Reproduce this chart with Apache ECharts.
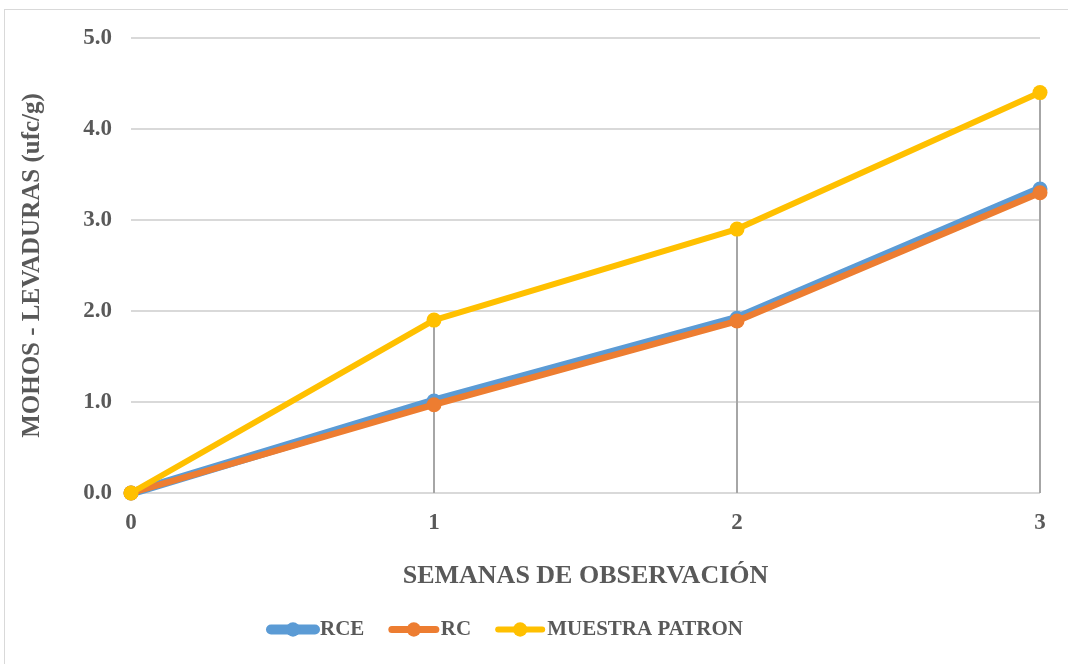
<!DOCTYPE html>
<html>
<head>
<meta charset="utf-8">
<script src="https://cdn.jsdelivr.net/npm/echarts@6/dist/echarts.min.js"></script>
<style>
  html, body { margin: 0; padding: 0; background: #fff; }
  #frame { position: absolute; left: 4px; top: 9px; width: 1080px; height: 680px; border: 1px solid #d9d9d9; box-sizing: border-box; }
  #chart { position: absolute; left: 0; top: 0; width: 1068px; height: 664px; }
</style>
</head>
<body>
<div id="frame"></div>
<div id="chart"></div>
<script>
// datos
var semanas = ['0', '1', '2', '3'];
var rce = [0, 1.01, 1.92, 3.34];
var rc = [0, 0.97, 1.89, 3.30];
var muestraPatron = [0, 1.90, 2.90, 4.40];
var yTicks = [0, 1, 2, 3, 4, 5];

var fuente = '"Liberation Serif", "Times New Roman", serif';
var gris = '#595959';

// lineas de caida (drop lines) desde el punto mas alto hasta el eje
var caidas = [];
for (var i = 1; i < semanas.length; i++) {
  var maxVal = Math.max(rce[i], rc[i], muestraPatron[i]);
  caidas.push([{ coord: [semanas[i], 0] }, { coord: [semanas[i], maxVal] }]);
}

var myChart = echarts.init(document.getElementById('chart'));
var option = {
  animation: false,
  color: ['#5b9bd5', '#ed7d31', '#ffc000'],
  grid: { left: 131, right: 28, top: 38, bottom: 171 },
  legend: {
    bottom: 19,
    left: 261,
    itemWidth: 44,
    itemHeight: 18,
    itemGap: 24,
    textStyle: { fontFamily: fuente, fontWeight: 'bold', fontSize: 21, color: gris },
    data: [
      { name: 'RCE', lineStyle: { width: 10, cap: 'round' } },
      { name: 'RC', lineStyle: { width: 7, cap: 'round' } },
      { name: 'MUESTRA PATRON', lineStyle: { width: 6, cap: 'round' } }
    ]
  },
  xAxis: {
    type: 'category',
    data: semanas,
    boundaryGap: false,
    name: 'SEMANAS DE OBSERVACIÓN',
    nameLocation: 'middle',
    nameGap: 70,
    nameTextStyle: { fontFamily: fuente, fontWeight: 'bold', fontSize: 26, color: gris },
    axisLine: { show: false },
    axisTick: { show: false },
    axisLabel: { fontFamily: fuente, fontWeight: 'bold', fontSize: 23, color: gris, margin: 19 }
  },
  yAxis: {
    type: 'value',
    min: 0,
    max: 5,
    interval: 1,
    name: 'MOHOS - LEVADURAS (ufc/g)',
    nameLocation: 'middle',
    nameGap: 86,
    nameTextStyle: { fontFamily: fuente, fontWeight: 'bold', fontSize: 25, color: gris },
    axisLine: { show: false },
    axisTick: { show: false },
    splitLine: { lineStyle: { color: '#d9d9d9', width: 2 } },
    axisLabel: {
      fontFamily: fuente, fontWeight: 'bold', fontSize: 23, color: gris, margin: 19,
      formatter: function (v) { return yTicks.indexOf(v) >= 0 ? v.toFixed(1) : ''; }
    }
  },
  series: [
    {
      name: 'RCE', type: 'line', data: rce,
      symbol: 'circle', symbolSize: 15,
      lineStyle: { width: 9, color: '#5b9bd5' }, z: 3
    },
    {
      name: 'RC', type: 'line', data: rc,
      symbol: 'circle', symbolSize: 15,
      lineStyle: { width: 6.5, color: '#ed7d31' }, z: 4
    },
    {
      name: 'MUESTRA PATRON', type: 'line', data: muestraPatron,
      symbol: 'circle', symbolSize: 15,
      lineStyle: { width: 6, color: '#ffc000' }, z: 5,
      markLine: {
        silent: true, symbol: 'none', z: 1,
        label: { show: false },
        lineStyle: { color: '#a6a6a6', width: 2, type: 'solid' },
        data: caidas
      }
    }
  ]
};
myChart.setOption(option);
</script>
</body>
</html>
